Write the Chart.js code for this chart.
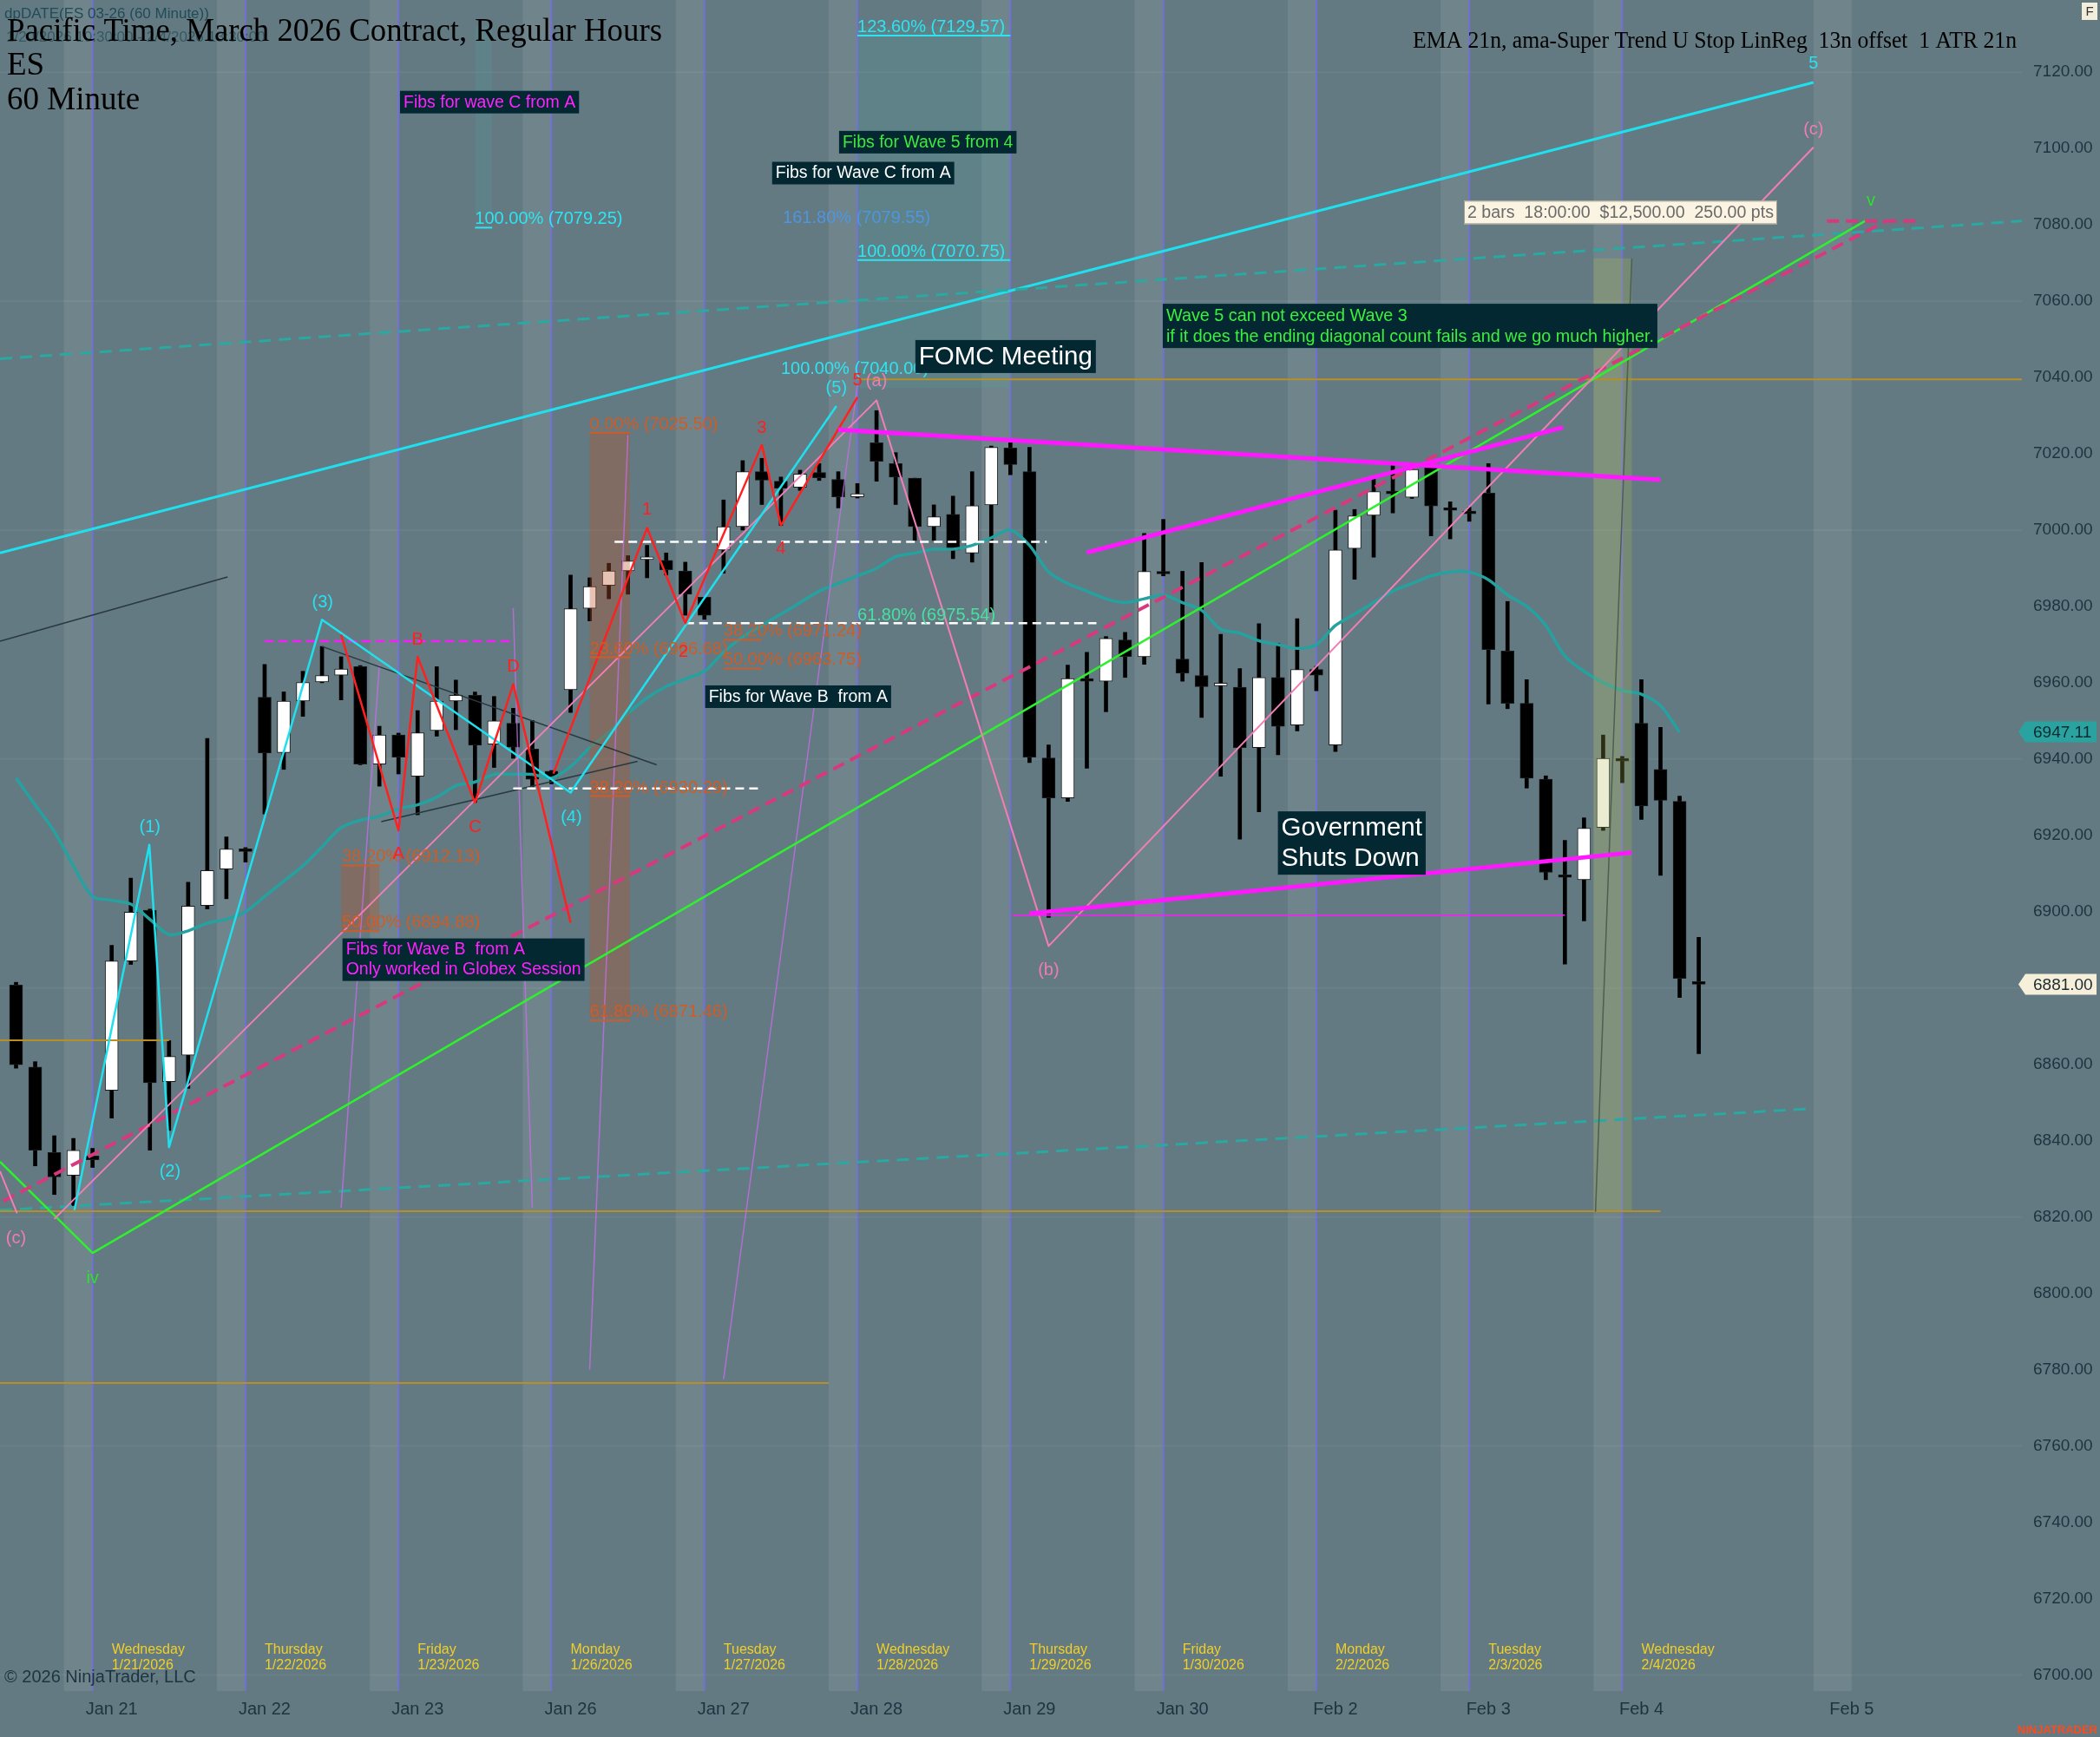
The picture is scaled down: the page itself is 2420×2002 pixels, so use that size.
<!DOCTYPE html>
<html>
<head>
<meta charset="utf-8">
<script src="https://cdn.jsdelivr.net/npm/chart.js@4.4.1/dist/chart.umd.min.js"></script>
<style>
  html, body { margin: 0; padding: 0; background: #637a82; overflow: hidden; }
  canvas { display: block; }
</style>
</head>
<body>
<canvas id="esChart" width="2420" height="2002" style="width:2420px;height:2002px"></canvas>
<script>
// ES 03-26, 60 minute bars (regular hours), index 0 = left-most bar
var opens  = [6880.8, 6859.3, 6836.9, 6830.9, 6836.0, 6853.2, 6887.1, 6900.4, 6855.5, 6862.4,
              6901.6, 6911.2, 6916.5, 6956.2, 6941.7, 6955.2, 6960.2, 6962.0, 6964.2, 6938.7,
              6946.3, 6935.5, 6947.5, 6955.2, 6956.7, 6943.9, 6949.4, 6942.6, 6936.8, 6958.2,
              6979.5, 6985.5, 6989.3, 6992.3, 6992.1, 6989.3, 6982.4, 6994.8, 7000.9, 7015.3,
              7012.8, 7011.2, 7015.1, 7013.3, 7008.7, 7022.9, 7017.4, 7013.6, 7000.9, 7004.1,
              6994.0, 7006.6, 7021.5, 7015.3, 6940.3, 6929.8, 6960.8, 6960.4, 6971.2, 6966.8,
              6989.0, 6966.2, 6961.9, 6959.2, 6958.8, 6943.0, 6961.4, 6948.9, 6963.5, 6943.7,
              6995.2, 7003.9, 7010.0, 7008.6, 7016.5, 7005.4, 7004.5, 7009.7, 6968.3, 6954.6,
              6934.7, 6909.5, 6908.4, 6922.1, 6939.9, 6949.4, 6937.3, 6928.9, 6881.5];
var highs  = [6881.5, 6860.7, 6841.3, 6840.6, 6838.0, 6891.2, 6908.8, 6900.7, 6866.2, 6907.7,
              6945.4, 6919.6, 6916.8, 6964.8, 6957.6, 6963.0, 6969.5, 6966.8, 6964.5, 6948.6,
              6946.8, 6952.7, 6964.2, 6960.7, 6957.6, 6956.4, 6953.3, 6950.1, 6937.0, 6988.2,
              6987.5, 6991.3, 6993.3, 6996.0, 6994.0, 6991.6, 6982.4, 7007.9, 7018.2, 7018.8,
              7013.9, 7015.7, 7017.4, 7015.3, 7012.2, 7031.3, 7020.3, 7013.6, 7006.6, 7008.9,
              7015.3, 7022.0, 7022.9, 7021.7, 6943.7, 6964.6, 6968.0, 6972.1, 6973.2, 6999.1,
              7002.8, 6989.2, 6991.5, 6972.7, 6963.7, 6975.5, 6970.3, 6976.8, 6964.3, 7005.2,
              7005.4, 7013.6, 7017.6, 7017.0, 7016.7, 7007.4, 7006.0, 7017.4, 6981.3, 6960.8,
              6935.6, 6918.7, 6924.6, 6946.3, 6940.7, 6960.8, 6948.3, 6930.3, 6893.3];
var lows   = [6859.0, 6833.4, 6825.9, 6823.0, 6833.0, 6845.9, 6886.2, 6837.5, 6842.7, 6853.7,
              6900.7, 6903.4, 6913.0, 6925.6, 6937.3, 6951.2, 6960.0, 6955.5, 6938.5, 6932.9,
              6936.1, 6925.4, 6946.0, 6947.7, 6928.6, 6937.8, 6940.2, 6932.7, 6933.5, 6952.2,
              6976.2, 6982.0, 6983.2, 6987.5, 6988.2, 6977.7, 6976.6, 6988.7, 7000.0, 7006.7,
              7001.2, 7010.4, 7013.0, 7005.8, 7008.4, 7012.8, 7006.7, 6997.3, 6997.3, 6992.5,
              6991.6, 6978.5, 7014.5, 6939.1, 6898.5, 6928.9, 6937.6, 6952.4, 6961.4, 6964.8,
              6988.0, 6960.4, 6950.9, 6935.5, 6919.0, 6926.2, 6941.1, 6947.4, 6957.9, 6942.0,
              6987.1, 6992.9, 7004.5, 7008.3, 6998.5, 6997.7, 7002.3, 6954.4, 6953.2, 6932.4,
              6908.4, 6886.3, 6897.6, 6921.3, 6933.8, 6924.2, 6909.5, 6877.5, 6862.8];
var closes = [6859.9, 6837.5, 6830.5, 6837.5, 6835.0, 6887.1, 6899.9, 6855.2, 6862.1, 6901.5,
              6910.8, 6916.4, 6915.8, 6941.6, 6955.2, 6960.1, 6961.9, 6963.6, 6938.7, 6946.3,
              6940.5, 6946.9, 6955.2, 6956.7, 6943.6, 6950.0, 6943.1, 6934.7, 6935.2, 6979.4,
              6985.2, 6989.3, 6991.9, 6992.6, 6989.6, 6983.2, 6977.7, 7000.9, 7015.3, 7013.1,
              7011.0, 7014.7, 7013.7, 7008.7, 7009.5, 7018.0, 7013.9, 7000.9, 7003.5, 6994.8,
              7006.4, 7021.7, 7017.2, 6940.5, 6929.8, 6961.1, 6960.4, 6971.6, 6966.9, 6989.2,
              6988.5, 6962.5, 6959.0, 6959.6, 6943.0, 6961.4, 6948.6, 6963.5, 6962.0, 6994.8,
              7003.7, 7010.1, 7009.5, 7015.9, 7006.3, 7005.2, 7004.3, 6968.7, 6954.6, 6935.0,
              6910.3, 6909.0, 6921.9, 6940.2, 6939.5, 6927.7, 6929.2, 6882.5, 6881.0];
var ema21  = [6935, 6928, 6921, 6912, 6904, 6903, 6902, 6898, 6894, 6895,
              6897, 6898, 6900, 6904, 6908, 6912, 6917, 6922, 6924, 6925,
              6927, 6928, 6930, 6933, 6934, 6936, 6936, 6936, 6935, 6938,
              6943, 6947, 6952, 6956, 6959, 6961, 6963, 6968, 6972, 6975,
              6978, 6981, 6984, 6986, 6988, 6990, 6993, 6994, 6995, 6995,
              6996, 6998, 7000, 6996, 6989, 6986, 6984, 6982, 6981, 6982,
              6983, 6981, 6979, 6974, 6973, 6971, 6970, 6969, 6970, 6975,
              6978, 6981, 6984, 6986, 6988, 6989, 6989, 6987, 6983, 6980,
              6975, 6967, 6963, 6960, 6958, 6957, 6954, 6947];

var priceTicks = [6700, 6720, 6740, 6760, 6780, 6800, 6820, 6840, 6860, 6880, 6900,
                  6920, 6940, 6960, 6980, 7000, 7020, 7040, 7060, 7080, 7100, 7120];
var gridPrices = [6700, 6760, 6820, 6880, 6940, 7000, 7060, 7120];
var dayTickIdx = [5, 13, 21, 29, 37, 45, 53, 61, 69, 77, 85, 96];
var dayTickLabels = ['Jan 21', 'Jan 22', 'Jan 23', 'Jan 26', 'Jan 27', 'Jan 28',
                     'Jan 29', 'Jan 30', 'Feb 2', 'Feb 3', 'Feb 4', 'Feb 5'];
var dayNames = [['Wednesday', '1/21/2026'], ['Thursday', '1/22/2026'], ['Friday', '1/23/2026'],
                ['Monday', '1/26/2026'], ['Tuesday', '1/27/2026'], ['Wednesday', '1/28/2026'],
                ['Thursday', '1/29/2026'], ['Friday', '1/30/2026'], ['Monday', '2/2/2026'],
                ['Tuesday', '2/3/2026'], ['Wednesday', '2/4/2026']];
var sessionBands = [[2.5, 4], [10.5, 12], [18.5, 20], [26.5, 28], [34.5, 36], [42.5, 44],
                    [50.5, 52], [58.5, 60], [66.5, 68], [74.5, 76], [82.5, 84], [94, 96]];
var sessionBreaks = [4, 12, 20, 28, 36, 44, 52, 60, 68, 76, 84];
var lastPrice = 6881.00;
var emaLast = 6947.11;

// drawing objects, in bar index / price units
var trendLines = [
  { pts: [[-0.84, 6994.0], [94.0, 7117.3]], color: '#1fe0ee', w: 3 },
  { pts: [[-0.84, 7044.9], [104.9, 7081.0]], color: '#2aa8a2', w: 3, dash: [14, 9] },
  { pts: [[-0.84, 6821.8], [94.0, 6848.4]], color: '#2aa8a2', w: 3, dash: [14, 9] },
  { pts: [[-0.84, 6866.3], [8.0, 6866.3]], color: '#b88f24', w: 2 },
  { pts: [[-0.84, 6821.5], [86.0, 6821.5]], color: '#b88f24', w: 2 },
  { pts: [[44.0, 7039.5], [104.9, 7039.5]], color: '#b88f24', w: 2 },
  { pts: [[-0.84, 6776.5], [42.5, 6776.5]], color: '#b88f24', w: 2 },
  { pts: [[17.0, 6822.4], [19.0, 6964.6]], color: 'rgba(200,110,235,0.75)', w: 1.5 },
  { pts: [[26.0, 6979.6], [27.0, 6822.5]], color: 'rgba(200,110,235,0.75)', w: 1.5 },
  { pts: [[30.0, 6780.0], [32.0, 7024.9]], color: 'rgba(200,110,235,0.75)', w: 1.5 },
  { pts: [[37.0, 6777.5], [44.0, 7037.9]], color: 'rgba(200,110,235,0.75)', w: 1.5 },
  { pts: [[82.6, 6821.4], [84.5, 7071.2]], color: '#4c5f50', w: 1.5 },
  { pts: [[-0.84, 6970.9], [11.06, 6987.7]], color: '#29383e', w: 1.5 },
  { pts: [[16.0, 6969.5], [33.5, 6938.5]], color: '#29383e', w: 1.5 },
  { pts: [[19.1, 6923.6], [32.5, 6939.4]], color: '#29383e', w: 1.5 },
  { pts: [[-0.84, 6834.5], [4.0, 6810.6], [96.7, 7081.0]], color: '#2ef02e', w: 2.5 },
  { pts: [[-0.66, 6824.2], [97.8, 7081.0]], color: '#d8397e', w: 4, dash: [14, 8] },
  { pts: [[94.7, 7081.0], [99.5, 7081.0]], color: '#d8397e', w: 4, dash: [14, 8] },
  { pts: [[-0.84, 6832.0], [0.05, 6821.0]], color: '#f27eb6', w: 2 },
  { pts: [[2.0, 6819.5], [45.0, 7034.0], [54.0, 6891.0], [94.0, 7100.3]], color: '#f27eb6', w: 2 },
  { pts: [[13.0, 6970.9], [25.9, 6970.9]], color: '#ff18ff', w: 2.5, dash: [10, 6] },
  { pts: [[31.3, 6996.9], [53.9, 6996.9]], color: '#ffffff', w: 2.5, dash: [10, 6] },
  { pts: [[35.0, 6975.6], [56.5, 6975.6]], color: '#ffffff', w: 2.5, dash: [10, 6] },
  { pts: [[26.0, 6932.3], [38.9, 6932.3]], color: '#ffffff', w: 2.5, dash: [10, 6] },
  { pts: [[3.05, 6821.8], [6.97, 6917.5], [8.0, 6838.3], [16.0, 6976.5], [29.0, 6931.2], [42.9, 7032.5]], color: '#1fe0ee', w: 2.5 },
  { pts: [[17.0, 6972.6], [20.0, 6921.3], [21.0, 6966.8], [24.0, 6928.6], [26.0, 6959.6], [29.0, 6897.1]], color: '#ff2020', w: 2.5 },
  { pts: [[28.1, 6936.2], [33.0, 7000.6], [35.0, 6975.6], [39.0, 7022.3], [40.0, 7001.2], [44.0, 7034.8]], color: '#ff2020', w: 2.5 },
  { pts: [[43.0, 7026.3], [86.0, 7013.2]], color: '#ff18ff', w: 5 },
  { pts: [[56.0, 6994.1], [80.9, 7026.9]], color: '#ff18ff', w: 5 },
  { pts: [[53.0, 6899.5], [84.5, 6915.5]], color: '#ff18ff', w: 5 },
  { pts: [[52.1, 6899.1], [81.0, 6899.1]], color: '#ff18ff', w: 1.5 }
];

// [from idx, to idx, top price, bottom price, fill]
var zones = [
  [17.0, 19.0, 6912.3, 6895.2, 'rgba(182,82,39,0.35)'],
  [30.0, 32.1, 7025.8, 6872.2, 'rgba(182,82,39,0.35)'],
  [44.0, 52.0, 7132.0, 7037.2, 'rgba(60,190,170,0.12)'],
  [24.0, 24.9, 7132.0, 7082.8, 'rgba(60,190,170,0.12)'],
  [82.5, 84.5, 7071.2, 6821.4, 'rgba(175,185,80,0.25)']
];

// fib level: [text, idx, level, color, line from, line to]
var fibLabels = [
  ['0.00% (7025.50)', 30.0, 7025.50, '#cf5c26', 30.0, 32.1],
  ['23.60% (6966.68)', 30.0, 6966.68, '#cf5c26', 30.0, 32.1],
  ['38.20% (6930.29)', 30.0, 6930.29, '#cf5c26', 30.0, 32.1],
  ['61.80% (6871.46)', 30.0, 6871.46, '#cf5c26', 30.0, 32.1],
  ['38.20% (6971.24)', 37.0, 6971.24, '#cf5c26', 37.0, 39.0],
  ['50.00% (6963.75)', 37.0, 6963.75, '#cf5c26', 37.0, 39.0],
  ['38.20% (6912.13)', 17.05, 6912.13, '#cf5c26', 17.0, 19.0],
  ['50.00% (6894.88)', 17.05, 6894.88, '#cf5c26', 17.0, 19.0],
  ['61.80% (6975.54)', 44.0, 6975.54, '#46e0a0', 44.0, 44.0],
  ['123.60% (7129.57)', 44.0, 7129.57, '#2ee4f2', 44.0, 52.0],
  ['100.00% (7079.25)', 24.0, 7079.25, '#2ee4f2', 24.0, 24.9],
  ['161.80% (7079.55)', 40.1, 7079.55, '#4d96e0', 40.1, 40.1],
  ['100.00% (7070.75)', 44.0, 7070.75, '#2ee4f2', 44.0, 52.0],
  ['100.00% (7040.00)', 40.0, 7040.00, '#2ee4f2', 40.0, 40.0]
];

var waveLabels = [
  ['(3)', 16.03, 6981.1, '#28e0f0'], ['(1)', 7.0, 6922.1, '#28e0f0'], ['(2)', 8.05, 6831.9, '#28e0f0'],
  ['(4)', 29.04, 6924.6, '#28e0f0'], ['(5)', 42.9, 7037.2, '#28e0f0'], ['5', 94.0, 7122.1, '#28e0f0'],
  ['(c)', 94.0, 7104.9, '#f07cb4'], ['(c)', 0.0, 6814.4, '#f07cb4'], ['(a)', 45.0, 7039.0, '#f07cb4'],
  ['(b)', 54.0, 6884.6, '#f07cb4'], ['iv', 4.0, 6803.9, '#2ee02e'], ['v', 97.0, 7086.3, '#2ee02e'],
  ['B', 21.0, 6971.2, '#ff2020'], ['A', 20.0, 6915.1, '#ff2020'], ['C', 24.0, 6922.1, '#ff2020'],
  ['D', 26.0, 6964.2, '#ff2020'], ['1', 33.0, 7005.3, '#ff2020'], ['2', 34.9, 6968.1, '#ff2020'],
  ['3', 39.0, 7026.7, '#ff2020'], ['4', 40.0, 6995.1, '#ff2020'], ['5', 44.0, 7039.3, '#ff2020']
];

var noteBoxes = [
  { lines: ['Fibs for wave C from A'], idx: 20.08, top: 7115.1, color: '#ff22ff', size: 19.5 },
  { lines: ['Fibs for Wave 5 from 4'], idx: 43.04, top: 7104.6, color: '#3ee83e', size: 19.5 },
  { lines: ['Fibs for Wave C from A'], idx: 39.54, top: 7096.5, color: '#ffffff', size: 19.5 },
  { lines: ['Fibs for Wave B  from A'], idx: 36.04, top: 6959.3, color: '#ffffff', size: 19.5 },
  { lines: ['Fibs for Wave B  from A', 'Only worked in Globex Session'], idx: 17.07, top: 6893.0, color: '#ff22ff', size: 19.5 },
  { lines: ['FOMC Meeting'], idx: 47.03, top: 7049.8, color: '#ffffff', size: 29.5 },
  { lines: ['Government', 'Shuts Down'], idx: 65.99, top: 6926.3, color: '#ffffff', size: 29.5 },
  { lines: ['Wave 5 can not exceed Wave 3', 'if it does the ending diagonal count fails and we go much higher.'],
    idx: 59.97, top: 7059.3, color: '#3ef03e', size: 19.8 },
  { lines: ['2 bars  18:00:00  $12,500.00  250.00 pts'], idx: 75.72, top: 7086.3, color: '#6a6a6a', size: 19.6,
    bg: '#fbf4e2', border: '#a39d8c' }
];

var SANS = '"Liberation Sans", Arial, sans-serif';
var SERIF = '"Liberation Serif", "Times New Roman", serif';

var bodyData = [], wickData = [], bodyColors = [], emaData = [];
for (var i = 0; i < opens.length; i++) {
  bodyData.push({ x: i, y: [opens[i], closes[i]] });
  wickData.push({ x: i, y: [lows[i], highs[i]] });
  bodyColors.push(closes[i] >= opens[i] ? '#ffffff' : '#000000');
}
for (var j = 0; j < ema21.length; j++) emaData.push({ x: j, y: ema21[j] });

function px(chart) {
  var xs = chart.scales.x, ys = chart.scales.y;
  return {
    X: function (v) { return xs.getPixelForValue(v); },
    Y: function (v) { return ys.getPixelForValue(v); }
  };
}

var backdrop = {
  id: 'backdrop',
  beforeDraw: function (chart) {
    var c = chart.ctx, a = chart.chartArea, s = px(chart);
    c.save();
    c.fillStyle = '#637a82';
    c.fillRect(0, 0, chart.width, chart.height);
    c.fillStyle = '#70858b';
    sessionBands.forEach(function (b) {
      var x0 = s.X(b[0]), x1 = s.X(b[1]);
      c.fillRect(x0, a.top, x1 - x0, a.bottom - a.top);
    });
    c.strokeStyle = 'rgba(255,255,255,0.05)';
    c.lineWidth = 2;
    gridPrices.forEach(function (p) {
      var y = s.Y(p);
      c.beginPath(); c.moveTo(a.left, y); c.lineTo(a.right, y); c.stroke();
    });
    c.strokeStyle = 'rgba(118,108,235,0.8)';
    c.lineWidth = 2;
    sessionBreaks.forEach(function (i) {
      var x = s.X(i);
      c.beginPath(); c.moveTo(x, a.top); c.lineTo(x, a.bottom); c.stroke();
    });
    c.restore();
  }
};

function drawBox(c, s, b) {
  var lh = Math.round(b.size * 1.2);
  c.font = b.size + 'px ' + SANS;
  var w = 0;
  b.lines.forEach(function (t) { w = Math.max(w, c.measureText(t).width); });
  var x = s.X(b.idx), y = s.Y(b.top);
  var h = b.lines.length * lh + 3;
  c.fillStyle = b.bg || '#032832';
  c.fillRect(x, y, w + 8, h);
  if (b.border) { c.strokeStyle = b.border; c.lineWidth = 1; c.strokeRect(x + 0.5, y + 0.5, w + 7, h - 1); }
  c.fillStyle = b.color;
  c.textAlign = 'left';
  c.textBaseline = 'middle';
  b.lines.forEach(function (t, k) { c.fillText(t, x + 4, y + 2 + lh * k + lh / 2); });
}

var drawings = {
  id: 'drawings',
  afterDatasetsDraw: function (chart) {
    var c = chart.ctx, a = chart.chartArea, s = px(chart);
    c.save();
    c.beginPath(); c.rect(a.left, a.top, a.right - a.left, a.bottom - a.top); c.clip();

    zones.forEach(function (z) {
      c.fillStyle = z[4];
      c.fillRect(s.X(z[0]), s.Y(z[2]), s.X(z[1]) - s.X(z[0]), s.Y(z[3]) - s.Y(z[2]));
    });

    c.lineJoin = 'round';
    trendLines.forEach(function (t) {
      c.strokeStyle = t.color;
      c.lineWidth = t.w;
      c.setLineDash(t.dash || []);
      c.beginPath();
      t.pts.forEach(function (p, k) {
        if (k === 0) c.moveTo(s.X(p[0]), s.Y(p[1])); else c.lineTo(s.X(p[0]), s.Y(p[1]));
      });
      c.stroke();
    });
    c.setLineDash([]);

    c.font = '20px ' + SANS;
    c.textAlign = 'left';
    c.textBaseline = 'alphabetic';
    fibLabels.forEach(function (f) {
      var y = s.Y(f[2]);
      if (f[5] > f[4]) {
        c.strokeStyle = f[3]; c.lineWidth = 2;
        c.beginPath(); c.moveTo(s.X(f[4]), y); c.lineTo(s.X(f[5]), y); c.stroke();
      }
      c.fillStyle = f[3];
      c.fillText(f[0], s.X(f[1]), y - 4);
    });

    c.font = '20px ' + SANS;
    c.textAlign = 'center';
    c.textBaseline = 'middle';
    waveLabels.forEach(function (w) {
      c.fillStyle = w[3];
      c.fillText(w[0], s.X(w[1]), s.Y(w[2]));
    });

    noteBoxes.forEach(function (b) { drawBox(c, s, b); });
    c.restore();
  },
  afterDraw: function (chart) {
    var c = chart.ctx, a = chart.chartArea, s = px(chart);
    c.save();
    // header
    c.textAlign = 'left';
    c.textBaseline = 'middle';
    c.fillStyle = '#214b56';
    c.font = '17px ' + SANS;
    c.fillText('dpDATE(ES 03-26 (60 Minute))', 5, 16);
    c.fillStyle = 'rgba(33,75,86,0.7)';
    c.fillText('1/20/2026 10:30:00 - 2/4/2026 13:30:00', 7, 43);
    c.fillStyle = '#000000';
    c.font = '37px ' + SERIF;
    c.fillText('Pacific Time, March 2026 Contract, Regular Hours', 8, 37, 755);
    c.fillText('ES', 8, 76);
    c.fillText('60 Minute', 8, 116);
    c.textAlign = 'right';
    c.font = '27px ' + SERIF;
    c.fillText('EMA 21n, ama-Super Trend U Stop LinReg  13n offset  1 ATR 21n', 2324, 48, 696);

    // session day captions
    c.textAlign = 'left';
    c.font = '16px ' + SANS;
    c.fillStyle = '#f0cf2a';
    dayNames.forEach(function (d, k) {
      var x = s.X(dayTickIdx[k]);
      c.fillText(d[0], x, 1902);
      c.fillText(d[1], x, 1920);
    });
    c.fillStyle = '#1b3440';
    c.font = '20px ' + SANS;
    c.fillText('\u00a9 2026 NinjaTrader, LLC', 5, 1933);

    // price markers on the axis
    function marker(price, bg, fg) {
      var y = s.Y(price);
      c.fillStyle = bg;
      c.beginPath();
      c.moveTo(a.right - 4, y);
      c.lineTo(a.right + 4, y - 12);
      c.lineTo(2416, y - 12);
      c.lineTo(2416, y + 12);
      c.lineTo(a.right + 4, y + 12);
      c.closePath();
      c.fill();
      c.fillStyle = fg;
      c.font = '19px ' + SANS;
      c.textAlign = 'left';
      c.fillText(price.toFixed(2), a.right + 13, y + 1);
    }
    marker(emaLast, '#2aa3a0', '#0c2a30');
    marker(lastPrice, '#f6f0da', '#1b2a30');

    c.fillStyle = '#f3eedb';
    c.fillRect(2399, 3, 18, 20);
    c.fillStyle = '#333';
    c.font = '15px ' + SANS;
    c.textAlign = 'center';
    c.fillText('F', 2408, 14);

    c.fillStyle = '#ff4a1c';
    c.font = 'bold 13px ' + SANS;
    c.textAlign = 'right';
    c.fillText('NINJATRADER', 2417, 1994);
    c.restore();
  }
};

var ctx = document.getElementById('esChart').getContext('2d');
var esChart = new Chart(ctx, {
  type: 'bar',
  data: {
    datasets: [
      {
        type: 'line', label: 'EMA 21', data: emaData, borderColor: '#25a2a0', borderWidth: 3.5,
        pointRadius: 0, tension: 0.3, order: -1
      },
      {
        type: 'bar', label: 'body', data: bodyData, backgroundColor: bodyColors,
        borderColor: '#1a1a1a', borderWidth: 1, borderSkipped: false,
        barThickness: 15, minBarLength: 3, grouped: false, order: 0
      },
      {
        type: 'bar', label: 'wick', data: wickData, backgroundColor: '#000000',
        borderWidth: 0, barThickness: 4, grouped: false, order: 1
      }
    ]
  },
  options: {
    responsive: false,
    animation: false,
    devicePixelRatio: 1,
    layout: { padding: 0 },
    plugins: { legend: { display: false }, tooltip: { enabled: false } },
    scales: {
      x: {
        type: 'linear', min: -0.84, max: 104.9, offset: false,
        grid: { display: false }, border: { display: false },
        afterBuildTicks: function (sc) { sc.ticks = dayTickIdx.map(function (v) { return { value: v }; }); },
        afterFit: function (sc) { sc.height = 53; sc.paddingLeft = 0; sc.paddingRight = 0; },
        ticks: {
          autoSkip: false, maxRotation: 0, padding: 1, color: '#1b3440',
          font: { family: SANS, size: 20 },
          callback: function (v) { var k = dayTickIdx.indexOf(v); return k >= 0 ? dayTickLabels[k] : ''; }
        }
      },
      y: {
        position: 'right', min: 6695.8, max: 7138.9,
        grid: { display: false, drawTicks: false }, border: { display: false },
        afterBuildTicks: function (sc) { sc.ticks = priceTicks.map(function (v) { return { value: v }; }); },
        afterFit: function (sc) { sc.width = 90; sc.paddingTop = 0; sc.paddingBottom = 0; },
        ticks: {
          padding: 13, color: '#1b3440', font: { family: SANS, size: 19 },
          callback: function (v) { return Number(v).toFixed(2); }
        }
      }
    }
  },
  plugins: [backdrop, drawings]
});
</script>
</body>
</html>
